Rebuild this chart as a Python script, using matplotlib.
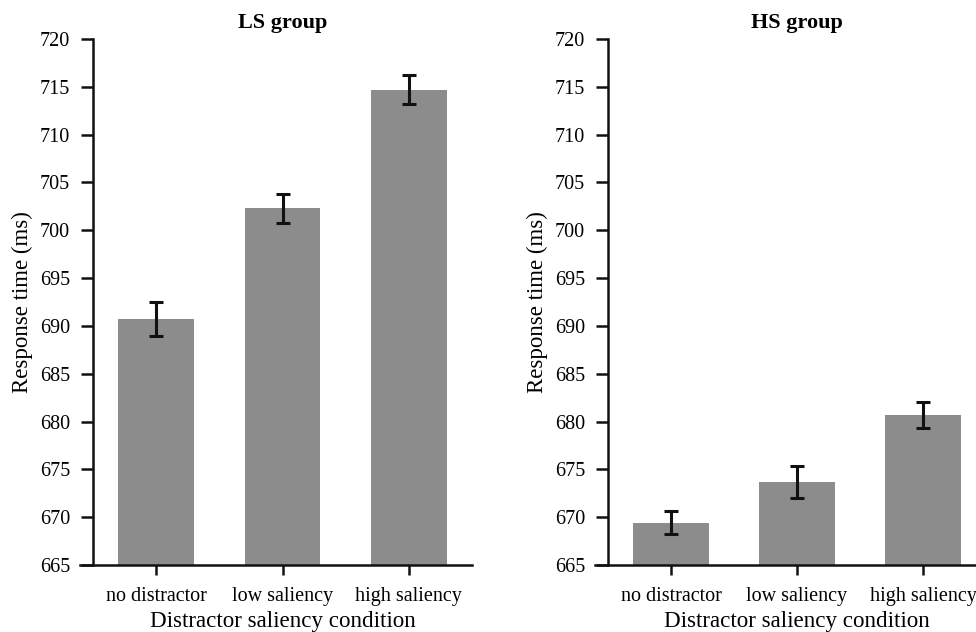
import matplotlib
matplotlib.use("Agg")
import matplotlib.pyplot as plt
import numpy as np

# data
conditions = ["no distractor", "low saliency", "high saliency"]
ls_means = [690.7, 702.3, 714.7]
ls_errs = [1.8, 1.5, 1.5]
hs_means = [669.4, 673.7, 680.7]
hs_errs = [1.2, 1.7, 1.35]
panel_titles = ["LS group", "HS group"]
yticks = list(range(665, 721, 5))

plt.rcParams["font.family"] = ["Liberation Serif", "DejaVu Serif"]

W, H = 976, 632
fig = plt.figure(figsize=(W / 100, H / 100), dpi=100)

# axes boxes in pixels: left, right, top, bottom
boxes = [(93, 472, 39, 565), (608, 986, 39, 565)]

x = np.arange(len(conditions))
for (l, r, t, b), title, means, errs in zip(boxes, panel_titles,
                                            [ls_means, hs_means], [ls_errs, hs_errs]):
    ax = fig.add_axes([l / W, 1 - b / H, (r - l) / W, (b - t) / H])
    ax.bar(x, np.array(means) - 665, bottom=665, width=0.6, color="#8c8c8c")
    ax.errorbar(x, means, yerr=errs, fmt="none", ecolor="#111111",
                elinewidth=2.2, capsize=4.8, capthick=2.2)
    ax.set_xlim(-0.5, 2.5)
    ax.set_ylim(665, 720)
    ax.set_yticks(yticks)
    ax.set_xticks(x)
    ax.set_xticklabels(conditions)
    ax.spines["top"].set_visible(False)
    ax.spines["right"].set_visible(False)
    for s in ("left", "bottom"):
        ax.spines[s].set_linewidth(1.8)
        ax.spines[s].set_color("#111111")
    ax.spines["bottom"].set_bounds(-0.6, 2.5)
    ax.tick_params(axis="y", length=8.6, width=1.8, pad=8, labelsize=14.5, color="#111111")
    ax.tick_params(axis="x", length=7.5, width=1.8, pad=8, labelsize=14.5, color="#111111")
    ax.set_title(title, fontsize=16, fontweight="bold", pad=8)
    ax.set_ylabel("Response time (ms)", fontsize=16.5, labelpad=5)
    ax.set_xlabel("Distractor saliency condition", fontsize=16.6, labelpad=4)

fig.savefig("out.png", dpi=100)
